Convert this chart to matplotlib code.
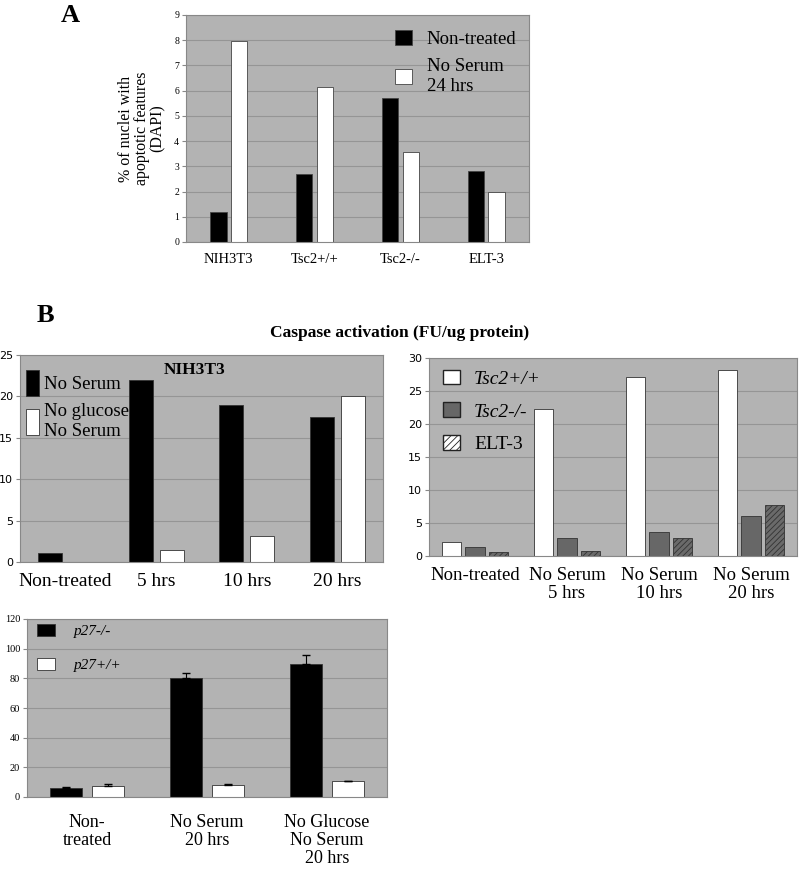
import numpy as np
import matplotlib
matplotlib.use("Agg")
import matplotlib.pyplot as plt
from matplotlib.patches import Patch

plt.rcParams['font.family'] = ['Liberation Serif', 'DejaVu Serif']
plt.rcParams['hatch.color'] = '#222222'
plt.rcParams['hatch.linewidth'] = 0.6

# panel A
a_cats = ["NIH3T3", "Tsc2+/+", "Tsc2-/-", "ELT-3"]
a_nontreated = [1.2, 2.7, 5.7, 2.8]
a_noserum = [7.95, 6.15, 3.55, 2.0]

# panel B, NIH3T3
b1_cats = ["Non-treated", "5 hrs", "10 hrs", "20 hrs"]
b1_noserum = [1.1, 22.0, 19.0, 17.5]
b1_noglucose = [0, 1.5, 3.1, 20.0]

# panel B, Tsc2 cells
b2_cats = ["Non-treated", "No Serum\n5 hrs", "No Serum\n10 hrs", "No Serum\n20 hrs"]
b2_tsc_wt = [2.1, 22.3, 27.1, 28.2]
b2_tsc_ko = [1.4, 2.8, 3.6, 6.1]
b2_elt3 = [0.6, 0.8, 2.8, 7.7]

# panel B, p27
b3_cats = ["Non-\ntreated", "No Serum\n20 hrs", "No Glucose\nNo Serum\n20 hrs"]
b3_ko = [6.0, 80.0, 90.0]
b3_ko_err = [1.0, 3.5, 5.5]
b3_wt = [7.5, 8.0, 10.5]
b3_wt_err = [1.5, 1.0, 0.0]

BG = '#b3b3b3'
GRID = '#959595'
W, H = 800, 869

fig = plt.figure(figsize=(W / 100, H / 100), dpi=100)


def make_ax(l, t, r, b):
    ax = fig.add_axes([l / W, 1 - b / H, (r - l) / W, (b - t) / H])
    ax.set_facecolor(BG)
    for s in ax.spines.values():
        s.set_color('#888888')
        s.set_linewidth(0.8)
    ax.yaxis.grid(True, color=GRID, linewidth=0.8)
    ax.set_axisbelow(True)
    ax.tick_params(axis='x', length=0, pad=8)
    ax.tick_params(axis='y', length=3, color='#888888', pad=2)
    return ax


# ---- A ----
ax = make_ax(186, 15, 529, 242)
x = np.arange(len(a_cats))
ax.bar(x - 0.122, a_nontreated, 0.19, color='black', edgecolor='#444444', linewidth=0.6, label="Non-treated")
ax.bar(x + 0.122, a_noserum, 0.19, color='white', edgecolor='#444444', linewidth=0.6, label="No Serum\n24 hrs")
ax.set_xlim(-0.5, 3.5)
ax.set_ylim(0, 9)
ax.set_yticks(range(10))
ax.set_xticks(x)
ax.set_xticklabels(a_cats, fontsize=10.5)
ax.tick_params(axis='y', labelsize=7)
ax.set_ylabel("% of nuclei with\napoptotic features\n(DAPI)", fontsize=11.5, labelpad=6, linespacing=1.0)
ax.legend(loc='upper left', bbox_to_anchor=(0.56, 1.01), frameon=False, fontsize=13.5,
          handlelength=0.9, handleheight=0.9, handletextpad=0.8, labelspacing=0.55)
fig.text(70 / W, 1 - 15 / H, "A", fontsize=19, fontweight='bold', ha='center', va='center')

# ---- B ----
fig.text(45 / W, 1 - 316 / H, "B", fontsize=19, fontweight='bold', ha='center', va='center')
fig.text(400 / W, 1 - 333 / H, "Caspase activation (FU/ug protein)", fontsize=12.5,
         fontweight='bold', ha='center', va='center')

# NIH3T3
ax = make_ax(20, 355, 383, 562)
x = np.arange(len(b1_cats))
ax.bar(x - 0.17, b1_noserum, 0.265, color='black', edgecolor='#333333', linewidth=0.6, label="No Serum")
ax.bar(x + 0.17, b1_noglucose, 0.265, color='white', edgecolor='#333333', linewidth=0.6, label="No glucose\nNo Serum")
ax.set_xlim(-0.5, 3.5)
ax.set_ylim(0, 25)
ax.set_yticks(range(0, 26, 5))
ax.set_yticklabels([str(v) for v in range(0, 26, 5)], family='DejaVu Sans', fontsize=8)
ax.set_xticks(x)
ax.set_xticklabels(b1_cats, fontsize=14)
ax.set_title("NIH3T3", fontsize=12.5, fontweight='bold', y=0.87, x=0.48)
ax.legend(loc='upper left', bbox_to_anchor=(-0.015, 0.98), frameon=False, fontsize=13.5,
          handlelength=0.7, handleheight=1.7, handletextpad=0.25, labelspacing=0.4,
          borderaxespad=0.2)

# Tsc2
ax = make_ax(429, 358, 797, 556)
x = np.arange(len(b2_cats))
ax.bar(x - 0.255, b2_tsc_wt, 0.207, color='white', edgecolor='#333333', linewidth=0.6, label="Tsc2+/+")
ax.bar(x, b2_tsc_ko, 0.207, color='#676767', edgecolor='#333333', linewidth=0.6, label="Tsc2-/-")
ax.bar(x + 0.255, b2_elt3, 0.207, color='#6a6a6a', edgecolor='#333333', linewidth=0.6,
       hatch='//////', label="ELT-3")
ax.set_xlim(-0.5, 3.5)
ax.set_ylim(0, 30)
ax.set_yticks(range(0, 31, 5))
ax.set_yticklabels([str(v) for v in range(0, 31, 5)], family='DejaVu Sans', fontsize=8)
ax.set_xticks(x)
ax.set_xticklabels(b2_cats, fontsize=13.5, linespacing=1.05)
handles = [Patch(facecolor='white', edgecolor='#222222'),
           Patch(facecolor='#676767', edgecolor='#222222'),
           Patch(facecolor='white', edgecolor='#222222', hatch='/////')]
leg = ax.legend(handles, ["Tsc2+/+", "Tsc2-/-", "ELT-3"], loc='upper left',
                bbox_to_anchor=(-0.01, 1.03), frameon=False, fontsize=14,
                handlelength=0.9, handleheight=0.8, handletextpad=0.7, labelspacing=0.75)
for t in leg.get_texts()[:2]:
    t.set_style('italic')

# p27
ax = make_ax(27, 619, 387, 797)
x = np.arange(len(b3_cats))
ax.bar(x - 0.173, b3_ko, 0.267, color='black', edgecolor='#333333', linewidth=0.6, label="p27-/-",
       yerr=[np.zeros(3), b3_ko_err], error_kw=dict(ecolor='black', elinewidth=0.8, capsize=3))
ax.bar(x + 0.173, b3_wt, 0.267, color='white', edgecolor='#333333', linewidth=0.6, label="p27+/+",
       yerr=[np.zeros(3), b3_wt_err], error_kw=dict(ecolor='black', elinewidth=0.8, capsize=3))
ax.set_xlim(-0.5, 2.5)
ax.set_ylim(0, 120)
ax.set_yticks(range(0, 121, 20))
ax.tick_params(axis='y', labelsize=7.5)
ax.set_xticks(x)
ax.set_xticklabels(b3_cats, fontsize=13, va='top', linespacing=1.1)
ax.tick_params(axis='x', pad=12)
leg = ax.legend(loc='upper left', bbox_to_anchor=(-0.01, 1.05), frameon=False, fontsize=11,
                handlelength=1.2, handleheight=0.8, handletextpad=1.2, labelspacing=1.3)
for t in leg.get_texts():
    t.set_style('italic')

fig.savefig("out.png", dpi=100)
